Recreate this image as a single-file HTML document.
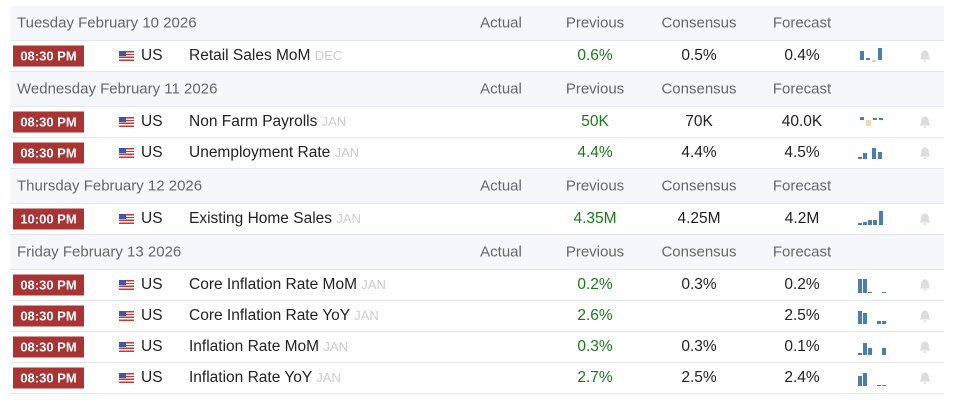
<!DOCTYPE html><html><head><style>
body{margin:0;width:956px;height:403px;background:#fff;font-family:"Liberation Sans",Arial,sans-serif;position:relative;overflow:hidden}
.h{position:absolute;left:10px;width:934px;background:#f5f7fa;border-bottom:1px solid #e3e6ea;color:#666;font-size:15px}
.r{position:absolute;left:10px;width:934px;border-bottom:1px solid #e3e6ea;font-size:15.5px;color:#222}
.h span,.r span{position:absolute;top:50%;transform:translateY(-50%);white-space:nowrap}
.c{transform:translate(-50%,-50%)!important}
.t{left:3px;background:#a83434;color:#fff;font-weight:bold;font-size:13px;width:71px;height:21px;line-height:21px;text-align:center}
.f{left:109px;width:15px;height:10px;background:repeating-linear-gradient(#c33 0 1.4px,#fff 1.4px 2.8px)}
.f:before{content:"";position:absolute;left:0;top:0;width:7px;height:5px;background:#3a5aa8}
.g{color:#1a7a1a}
.m{color:#ccc;font-size:13px}
.b{left:909px;width:12px;height:13px}
.sp{left:848px;width:32px;height:16px}
.sp i{position:absolute;bottom:0;background:#4a7fb0;width:4px}
</style></head><body>
<div class="h" style="top:6px;height:34px"><span style="left:7px">Tuesday February 10 2026</span><span class="c" style="left:491px">Actual</span><span class="c" style="left:585px">Previous</span><span class="c" style="left:689px">Consensus</span><span class="c" style="left:792px">Forecast</span></div>
<div class="r" style="top:41px;height:30px"><span class="t">08:30 PM</span><span class="f"></span><span style="left:131px">US</span><span style="left:179px">Retail Sales MoM <b class="m" style="font-weight:normal">DEC</b></span><span class="c g" style="left:585px">0.6%</span><span class="c" style="left:689px">0.5%</span><span class="c" style="left:792px">0.4%</span><span class="sp"><i style="left:2px;height:9px;bottom:4px"></i><i style="left:8px;height:2px;bottom:4px"></i><i style="left:14px;height:2px;bottom:2px;background:#e8d2a8"></i><i style="left:20px;height:12px;bottom:4px"></i></span><span class="b"><svg width="12" height="13"><path d="M6 1C3 1 2 4 2 7L1 10H11L10 7C10 4 9 1 6 1ZM4.5 11A1.5 1.5 0 0 0 7.5 11Z" fill="#ddd"/></svg></span></div>
<div class="h" style="top:72px;height:34px"><span style="left:7px">Wednesday February 11 2026</span><span class="c" style="left:491px">Actual</span><span class="c" style="left:585px">Previous</span><span class="c" style="left:689px">Consensus</span><span class="c" style="left:792px">Forecast</span></div>
<div class="r" style="top:107px;height:30px"><span class="t">08:30 PM</span><span class="f"></span><span style="left:131px">US</span><span style="left:179px">Non Farm Payrolls <b class="m" style="font-weight:normal">JAN</b></span><span class="c g" style="left:585px">50K</span><span class="c" style="left:689px">70K</span><span class="c" style="left:792px">40.0K</span><span class="sp"><i style="left:2px;height:3px;bottom:10px"></i><i style="left:8px;height:6px;bottom:4px;background:#eed8b0;width:5px"></i><i style="left:15px;height:2px;bottom:10px"></i><i style="left:21px;height:2px;bottom:10px"></i></span><span class="b"><svg width="12" height="13"><path d="M6 1C3 1 2 4 2 7L1 10H11L10 7C10 4 9 1 6 1ZM4.5 11A1.5 1.5 0 0 0 7.5 11Z" fill="#ddd"/></svg></span></div>
<div class="r" style="top:138px;height:30px"><span class="t">08:30 PM</span><span class="f"></span><span style="left:131px">US</span><span style="left:179px">Unemployment Rate <b class="m" style="font-weight:normal">JAN</b></span><span class="c g" style="left:585px">4.4%</span><span class="c" style="left:689px">4.4%</span><span class="c" style="left:792px">4.5%</span><span class="sp"><i style="left:0;height:2px;bottom:2px"></i><i style="left:5px;height:6px;bottom:2px"></i><i style="left:14px;height:11px;bottom:2px"></i><i style="left:20px;height:7px;bottom:2px"></i></span><span class="b"><svg width="12" height="13"><path d="M6 1C3 1 2 4 2 7L1 10H11L10 7C10 4 9 1 6 1ZM4.5 11A1.5 1.5 0 0 0 7.5 11Z" fill="#ddd"/></svg></span></div>
<div class="h" style="top:169px;height:34px"><span style="left:7px">Thursday February 12 2026</span><span class="c" style="left:491px">Actual</span><span class="c" style="left:585px">Previous</span><span class="c" style="left:689px">Consensus</span><span class="c" style="left:792px">Forecast</span></div>
<div class="r" style="top:204px;height:30px"><span class="t">10:00 PM</span><span class="f"></span><span style="left:131px">US</span><span style="left:179px">Existing Home Sales <b class="m" style="font-weight:normal">JAN</b></span><span class="c g" style="left:585px">4.35M</span><span class="c" style="left:689px">4.25M</span><span class="c" style="left:792px">4.2M</span><span class="sp"><i style="left:0;height:2px;bottom:2px"></i><i style="left:5px;height:3px;bottom:2px"></i><i style="left:10px;height:5px;bottom:2px"></i><i style="left:15px;height:5px;bottom:2px"></i><i style="left:21px;height:14px;bottom:2px"></i></span><span class="b"><svg width="12" height="13"><path d="M6 1C3 1 2 4 2 7L1 10H11L10 7C10 4 9 1 6 1ZM4.5 11A1.5 1.5 0 0 0 7.5 11Z" fill="#ddd"/></svg></span></div>
<div class="h" style="top:235px;height:34px"><span style="left:7px">Friday February 13 2026</span><span class="c" style="left:491px">Actual</span><span class="c" style="left:585px">Previous</span><span class="c" style="left:689px">Consensus</span><span class="c" style="left:792px">Forecast</span></div>
<div class="r" style="top:270px;height:30px"><span class="t">08:30 PM</span><span class="f"></span><span style="left:131px">US</span><span style="left:179px">Core Inflation Rate MoM <b class="m" style="font-weight:normal">JAN</b></span><span class="c g" style="left:585px">0.2%</span><span class="c" style="left:689px">0.3%</span><span class="c" style="left:792px">0.2%</span><span class="sp"><i style="left:0;height:14px"></i><i style="left:5px;height:14px"></i><i style="left:10px;height:1px"></i><i style="left:24px;height:1px"></i></span><span class="b"><svg width="12" height="13"><path d="M6 1C3 1 2 4 2 7L1 10H11L10 7C10 4 9 1 6 1ZM4.5 11A1.5 1.5 0 0 0 7.5 11Z" fill="#ddd"/></svg></span></div>
<div class="r" style="top:301px;height:30px"><span class="t">08:30 PM</span><span class="f"></span><span style="left:131px">US</span><span style="left:179px">Core Inflation Rate YoY <b class="m" style="font-weight:normal">JAN</b></span><span class="c g" style="left:585px">2.6%</span><span class="c" style="left:792px">2.5%</span><span class="sp"><i style="left:0;height:13px"></i><i style="left:5px;height:11px"></i><i style="left:19px;height:3px"></i><i style="left:24px;height:3px"></i></span><span class="b"><svg width="12" height="13"><path d="M6 1C3 1 2 4 2 7L1 10H11L10 7C10 4 9 1 6 1ZM4.5 11A1.5 1.5 0 0 0 7.5 11Z" fill="#ddd"/></svg></span></div>
<div class="r" style="top:332px;height:30px"><span class="t">08:30 PM</span><span class="f"></span><span style="left:131px">US</span><span style="left:179px">Inflation Rate MoM <b class="m" style="font-weight:normal">JAN</b></span><span class="c g" style="left:585px">0.3%</span><span class="c" style="left:689px">0.3%</span><span class="c" style="left:792px">0.1%</span><span class="sp"><i style="left:0;height:2px"></i><i style="left:5px;height:12px"></i><i style="left:10px;height:7px"></i><i style="left:24px;height:7px"></i></span><span class="b"><svg width="12" height="13"><path d="M6 1C3 1 2 4 2 7L1 10H11L10 7C10 4 9 1 6 1ZM4.5 11A1.5 1.5 0 0 0 7.5 11Z" fill="#ddd"/></svg></span></div>
<div class="r" style="top:363px;height:30px"><span class="t">08:30 PM</span><span class="f"></span><span style="left:131px">US</span><span style="left:179px">Inflation Rate YoY <b class="m" style="font-weight:normal">JAN</b></span><span class="c g" style="left:585px">2.7%</span><span class="c" style="left:689px">2.5%</span><span class="c" style="left:792px">2.4%</span><span class="sp"><i style="left:0;height:10px"></i><i style="left:5px;height:13px"></i><i style="left:19px;height:1px"></i><i style="left:24px;height:1px"></i></span><span class="b"><svg width="12" height="13"><path d="M6 1C3 1 2 4 2 7L1 10H11L10 7C10 4 9 1 6 1ZM4.5 11A1.5 1.5 0 0 0 7.5 11Z" fill="#ddd"/></svg></span></div>
</body></html>
